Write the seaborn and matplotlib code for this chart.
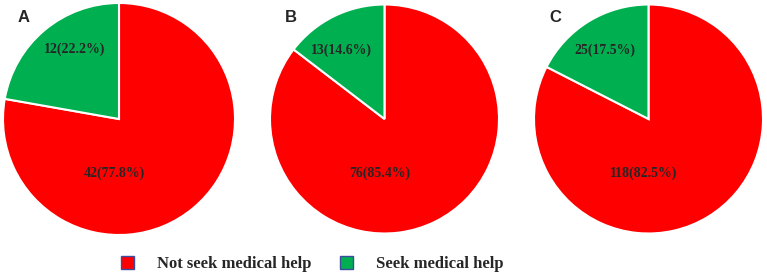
import matplotlib
matplotlib.use("Agg")
import matplotlib.pyplot as plt
from matplotlib.patches import Patch
import seaborn as sns

# data
panels = ["A", "B", "C"]
not_seek = [42, 76, 118]
seek = [12, 13, 25]
categories = ["Not seek medical help", "Seek medical help"]
palette = ["#FF0000", "#00B050"]

sns.set_style("white")

W, H = 767, 276
fig = plt.figure(figsize=(W / 100, H / 100), dpi=100)

# pie centre x, centre y (from top) and radius, in pixels
boxes = [(119, 119, 116), (384.5, 119, 114.5), (648.5, 119, 114.5)]
label_font = dict(family="Liberation Serif", weight="bold", size=10)

for letter, ns, s, (cx, cy, r) in zip(panels, not_seek, seek, boxes):
    ax = fig.add_axes([(cx - r) / W, (H - cy - r) / H, 2 * r / W, 2 * r / H])
    total = ns + s
    ax.pie([ns, s], colors=palette, startangle=90, counterclock=False,
           wedgeprops=dict(edgecolor="white", linewidth=1.5))
    ax.set_xlim(-1, 1)
    ax.set_ylim(-1, 1)
    ax.set_aspect("equal")
    ax.axis("off")
    ax.text(-0.38, 0.6, f"{s}({s / total * 100:.1f}%)", ha="center", va="center", **label_font)
    ax.text(-0.04, -0.47, f"{ns}({ns / total * 100:.1f}%)", ha="center", va="center", **label_font)
    fig.text((cx - r + 15) / W, (H - 22) / H, letter, ha="left", va="baseline",
             family="Liberation Sans", weight="bold", size=12)

handles = [Patch(facecolor=c, edgecolor="#3B4BA0", linewidth=1) for c in palette]
fig.legend(handles, categories, loc="center left", ncol=2, frameon=False,
           bbox_to_anchor=(121 / W, (H - 264) / H), borderpad=0, borderaxespad=0,
           handlelength=0.78, handleheight=0.78, handletextpad=1.38, columnspacing=1.74,
           prop=dict(family="Liberation Serif", weight="bold", size=12))

fig.savefig("out.png", dpi=100)
